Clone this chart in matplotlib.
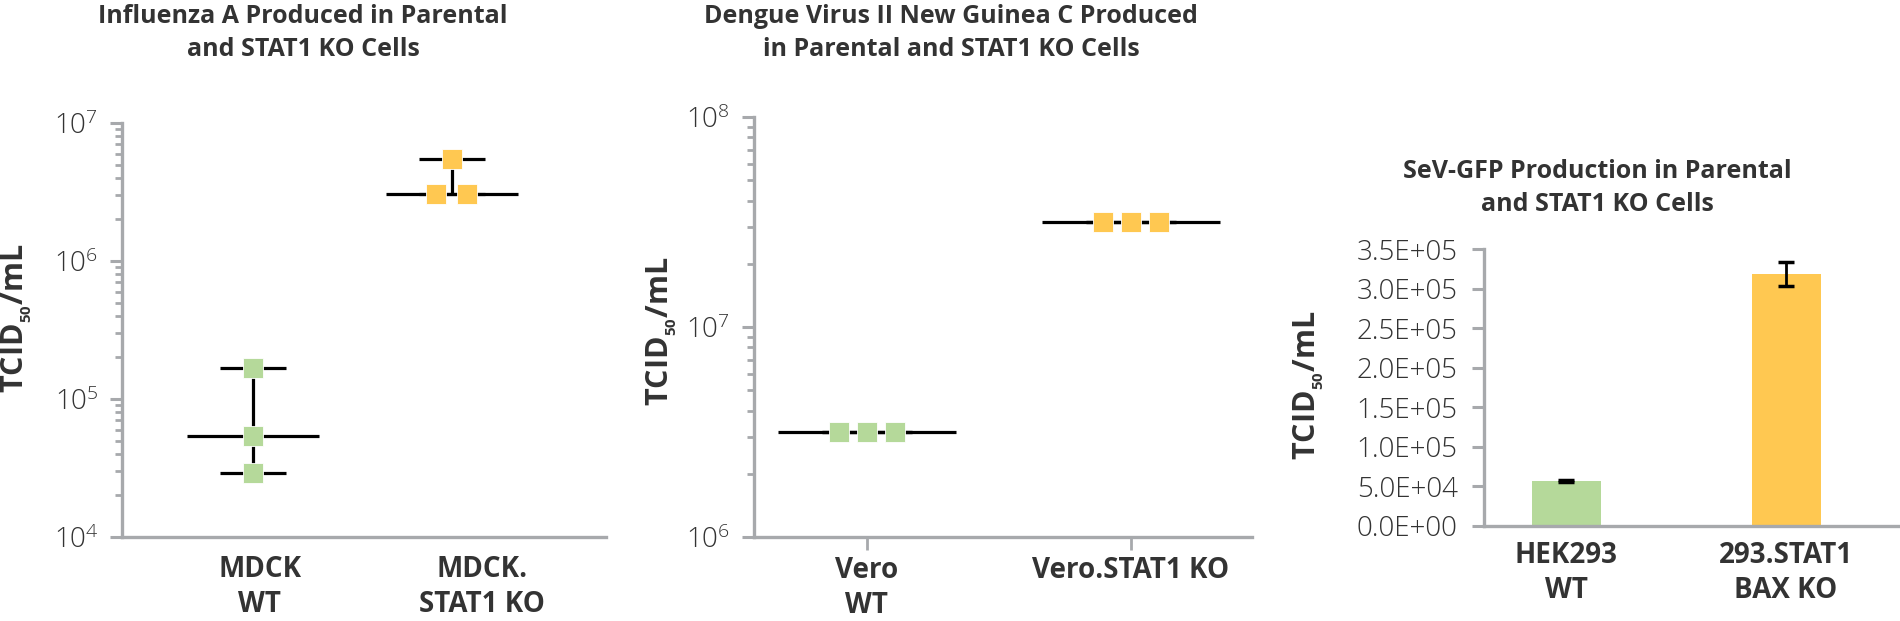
import numpy as np
import matplotlib
matplotlib.use("Agg")
import matplotlib.pyplot as plt
from matplotlib.ticker import LogFormatterSciNotation, FormatStrFormatter, NullFormatter

plt.rcParams['font.family'] = ['Open Sans', 'DejaVu Sans']
plt.rcParams['mathtext.default'] = 'regular'

# data
flu_groups = ['MDCK\nWT', 'MDCK.\nSTAT1 KO']
flu_wt = [1.68e5, 5.4e4, 2.93e4]
flu_ko = [5.46e6, 3.08e6, 3.08e6]

dengue_groups = ['Vero\nWT', 'Vero.STAT1 KO']
dengue_wt = [3.16e6, 3.16e6, 3.16e6]
dengue_ko = [3.16e7, 3.16e7, 3.16e7]

sev_groups = ['HEK293\nWT', '293.STAT1\nBAX KO']
sev_mean = [5.7e4, 3.18e5]
sev_err = [1.2e3, 1.5e4]

GREEN = '#B5D99A'
ORANGE = '#FFC851'
AXC = '#A7A9AC'
TXT = '#333333'


def jitter(values, step):
    # spread equal values side by side like the original dot plot
    values = np.asarray(values)
    offs = np.zeros(len(values))
    for v in np.unique(values):
        idx = np.where(values == v)[0]
        offs[idx] = (np.arange(len(idx)) - (len(idx) - 1) / 2) * step
    return offs


def dot_panel(ax, groups_vals, colors, step, med_hw, cap_hw):
    for i, (vals, c) in enumerate(zip(groups_vals, colors)):
        vals = np.asarray(vals)
        med = np.median(vals)
        ax.hlines(med, i - med_hw, i + med_hw, color='black', lw=2.3, zorder=2)
        ax.vlines(i, vals.min(), vals.max(), color='black', lw=2.3, zorder=2)
        ax.hlines([vals.min(), vals.max()], i - cap_hw, i + cap_hw, color='black', lw=2.3, zorder=2)
        ax.plot(i + jitter(vals, step), vals, 's', ms=14, color=c, mec='white', mew=0.6,
                linestyle='none', zorder=3)


def style_axes(ax):
    for s in ['top', 'right']:
        ax.spines[s].set_visible(False)
    for s in ['left', 'bottom']:
        ax.spines[s].set_color(AXC)
        ax.spines[s].set_linewidth(2.4)
    ax.tick_params(axis='y', which='major', length=9, width=2.2, color=AXC,
                   labelsize=20, labelcolor=TXT, pad=8)
    ax.tick_params(axis='y', which='minor', length=5, width=2.0, color=AXC)


fig = plt.figure(figsize=(19, 6.21), dpi=100)

# ---- Influenza A
ax1 = fig.add_axes([0.0642, 0.1353, 0.2547, 0.6667])
dot_panel(ax1, [flu_wt, flu_ko], [GREEN, ORANGE], 0.156, 0.33, 0.167)
ax1.set_yscale('log')
ax1.set_ylim(1e4, 1e7)
ax1.set_xlim(-0.658, 1.774)
style_axes(ax1)
ax1.yaxis.set_major_formatter(LogFormatterSciNotation())
ax1.yaxis.set_minor_formatter(NullFormatter())
ax1.set_xticks([0.035, 1.15], flu_groups, fontweight='bold', fontsize=20, color=TXT)
ax1.tick_params(axis='x', length=0, pad=13)

# ---- Dengue
ax2 = fig.add_axes([0.3968, 0.1353, 0.2621, 0.6763])
dot_panel(ax2, [dengue_wt, dengue_ko], [GREEN, ORANGE], 0.106, 0.337, 0.17)
ax2.set_yscale('log')
ax2.set_ylim(1e6, 1e8)
ax2.set_xlim(-0.428, 1.458)
style_axes(ax2)
ax2.yaxis.set_major_formatter(LogFormatterSciNotation())
ax2.yaxis.set_minor_formatter(NullFormatter())
ax2.set_xticks([0, 1], dengue_groups, fontweight='bold', fontsize=20, color=TXT)
ax2.tick_params(axis='x', length=9, width=2.0, color=AXC, pad=5)

# ---- SeV-GFP bars
ax3 = fig.add_axes([0.7811, 0.153, 0.2189, 0.446])
xb = np.arange(len(sev_groups))
ax3.bar(xb, sev_mean, width=0.314, color=[GREEN, ORANGE], zorder=2)
ax3.errorbar(xb, sev_mean, yerr=sev_err, fmt='none', ecolor='black', elinewidth=2,
             capsize=6, capthick=2.5, zorder=3)
ax3.set_ylim(0, 3.5e5)
ax3.set_xlim(-0.373, 1.518)
ax3.set_yticks(np.arange(0, 3.51e5, 0.5e5))
style_axes(ax3)
ax3.tick_params(axis='y', pad=10)
ax3.yaxis.set_major_formatter(FormatStrFormatter('%.1E'))
ax3.set_xticks(xb, sev_groups, fontweight='bold', fontsize=20, color=TXT)
ax3.tick_params(axis='x', length=0, pad=11)

for ax in (ax1, ax2, ax3):
    plt.setp(ax.get_xticklabels(), linespacing=1.25)
    plt.setp(ax.get_yticklabels(), fontweight='light')

# titles
fig.text(303 / 1900, 1 - 33 / 621, 'Influenza A Produced in Parental\nand STAT1 KO Cells',
         ha='center', va='center', fontsize=18, fontweight='bold', color=TXT, linespacing=1.45)
fig.text(951 / 1900, 1 - 33 / 621, 'Dengue Virus II New Guinea C Produced\nin Parental and STAT1 KO Cells',
         ha='center', va='center', fontsize=18, fontweight='bold', color=TXT, linespacing=1.45)
fig.text(1597 / 1900, 1 - 188 / 621, 'SeV-GFP Production in Parental\nand STAT1 KO Cells',
         ha='center', va='center', fontsize=18, fontweight='bold', color=TXT, linespacing=1.45)

# y labels
ylab = r'TCID$_{_{50}}$/mL'
fig.text(17 / 1900, 1 - 318 / 621, ylab, rotation=90, ha='center', va='center',
         fontsize=22, fontweight='bold', color=TXT)
fig.text(662 / 1900, 1 - 331 / 621, ylab, rotation=90, ha='center', va='center',
         fontsize=22, fontweight='bold', color=TXT)
fig.text(1309 / 1900, 1 - 385 / 621, ylab, rotation=90, ha='center', va='center',
         fontsize=22, fontweight='bold', color=TXT)

fig.savefig('out.png', dpi=100)
